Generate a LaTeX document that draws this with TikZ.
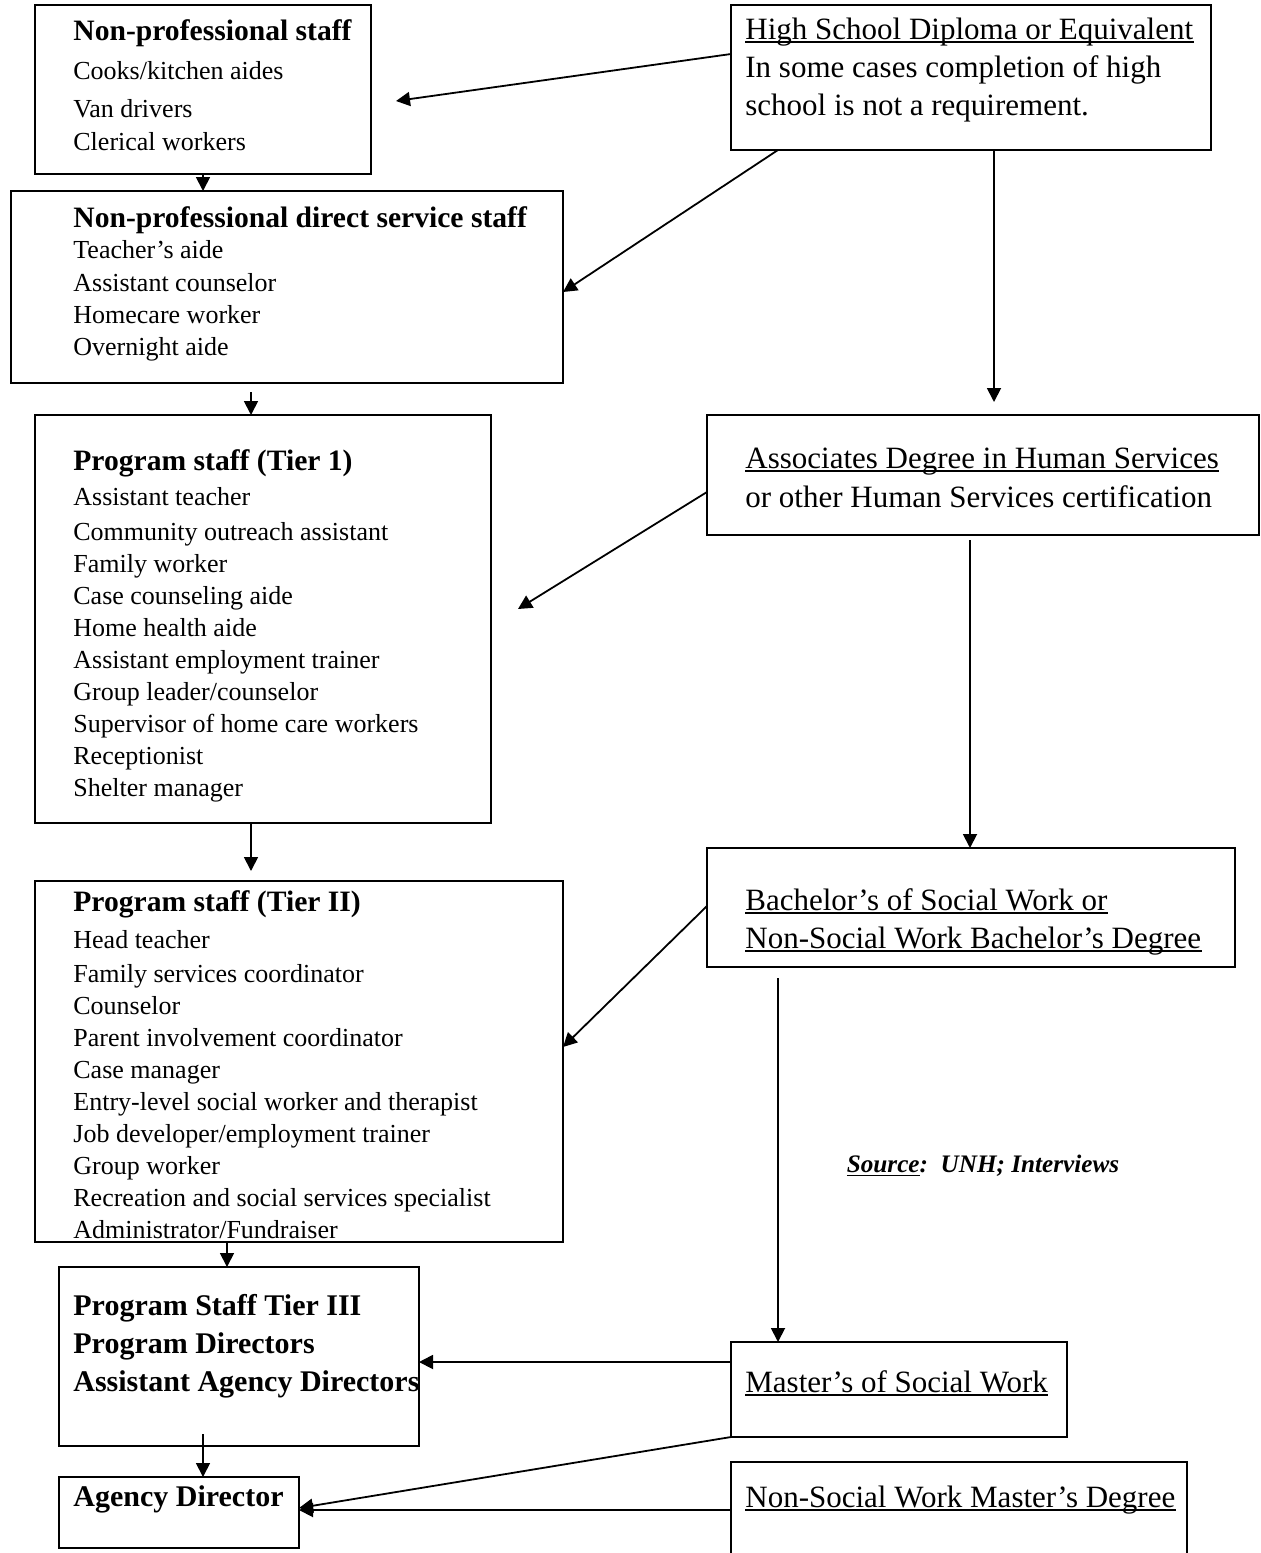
\documentclass[tikz,border=0pt]{standalone}
\usepackage{fontspec}
\setmainfont{Liberation Serif}
\usetikzlibrary{arrows.meta,fit}
\tikzset{
  box/.style={draw, line width=1pt, inner sep=0pt, outer sep=0pt, fit={#1}},
  lbl/.style={anchor=base west, inner sep=0pt, font=\fontsize{13}{15}\selectfont},
  hdr/.style={anchor=base west, inner sep=0pt, font=\fontsize{14.8}{17}\selectfont\bfseries},
  big/.style={anchor=base west, inner sep=0pt, font=\fontsize{15.5}{18}\selectfont},
  bigb/.style={anchor=base west, inner sep=0pt, font=\fontsize{15}{18}\selectfont\bfseries},
  arr/.style={line width=0.9pt, -{Triangle[length=7pt,width=7pt]}},
  ul/.style={line width=0.8pt}
}
\newcommand{\underl}[1]{\draw[ul] ([yshift=-1.6pt]#1.base west) -- ([yshift=-1.6pt]#1.base east);}
\begin{document}
\begin{tikzpicture}[x=0.5pt,y=-0.5pt]
\useasboundingbox (0,0) rectangle (1261,1553);
\fill[white] (0,0) rectangle (1261,1553);
\clip (0,0) rectangle (1261,1553);

% boxes
\node[box={(35,5) (371,174)}] (b1) {};
\node[box={(11,191) (563,383)}] (b2) {};
\node[box={(35,415) (491,823)}] (b3) {};
\node[box={(35,881) (563,1242)}] (b4) {};
\node[box={(59,1267) (419,1446)}] (b5) {};
\node[box={(59,1477) (299,1548)}] (b6) {};
\node[box={(731,5) (1211,150)}] (bA) {};
\node[box={(707,415) (1259,535)}] (bB) {};
\node[box={(707,848) (1235,967)}] (bC) {};
\node[box={(731,1342) (1067,1437)}] (bD) {};
\node[box={(731,1462) (1187,1600)}] (bE) {};

% box 1
\node[hdr] (t11) at (73,40) {Non-professional staff};
\node[lbl] (t12) at (73,79) {Cooks/kitchen aides};
\node[lbl] (t13) at (73,117) {Van drivers};
\node[lbl] (t14) at (73,150) {Clerical workers};
% box 2
\node[hdr] (t21) at (73,227) {Non-professional direct service staff};
\node[lbl] (t22) at (73,258) {Teacher’s aide};
\node[lbl] (t23) at (73,291) {Assistant counselor};
\node[lbl] (t24) at (73,323) {Homecare worker};
\node[lbl] (t25) at (73,355) {Overnight aide};
% box 3
\node[hdr] (t31) at (73,470) {Program staff (Tier 1)};
\node[lbl] (t32) at (73,505) {Assistant teacher};
\node[lbl] (t33) at (73,540) {Community outreach assistant};
\node[lbl] (t34) at (73,572) {Family worker};
\node[lbl] (t35) at (73,604) {Case counseling aide};
\node[lbl] (t36) at (73,636) {Home health aide};
\node[lbl] (t37) at (73,668) {Assistant employment trainer};
\node[lbl] (t38) at (73,700) {Group leader/counselor};
\node[lbl] (t39) at (73,732) {Supervisor of home care workers};
\node[lbl] (t3a) at (73,764) {Receptionist};
\node[lbl] (t3b) at (73,796) {Shelter manager};
% box 4
\node[hdr] (t41) at (73,911) {Program staff (Tier II)};
\node[lbl] (t42) at (73,948) {Head teacher};
\node[lbl] (t43) at (73,982) {Family services coordinator};
\node[lbl] (t44) at (73,1014) {Counselor};
\node[lbl] (t45) at (73,1046) {Parent involvement coordinator};
\node[lbl] (t46) at (73,1078) {Case manager};
\node[lbl] (t47) at (73,1110) {Entry-level social worker and therapist};
\node[lbl] (t48) at (73,1142) {Job developer/employment trainer};
\node[lbl] (t49) at (73,1174) {Group worker};
\node[lbl] (t4a) at (73,1206) {Recreation and social services specialist};
\node[lbl] (t4b) at (73,1238) {Administrator/Fundraiser};
% box 5
\node[bigb] (t51) at (73,1315) {Program Staff Tier III};
\node[bigb] (t52) at (73,1353) {Program Directors};
\node[bigb] (t53) at (73,1391) {Assistant Agency Directors};
% box 6
\node[bigb] (t61) at (73,1506) {Agency Director};
% right boxes
\node[big] (tA1) at (745,39) {High School Diploma or Equivalent};
\node[big] (tA2) at (745,77) {In some cases completion of high};
\node[big] (tA3) at (745,115) {school is not a requirement.};
\node[big] (tB1) at (745,468) {Associates Degree in Human Services};
\node[big] (tB2) at (745,507) {or other Human Services certification};
\node[big] (tC1) at (745,910) {Bachelor’s of Social Work or};
\node[big] (tC2) at (745,948) {Non-Social Work Bachelor’s Degree};
\node[big] (tD1) at (745,1392) {Master’s of Social Work};
\node[big] (tE1) at (745,1507) {Non-Social Work Master’s Degree};
\underl{tA1}
\underl{tB1}
\underl{tC1}
\underl{tC2}
\underl{tD1}
\underl{tE1}
% source
\node[anchor=base, inner sep=0pt, font=\fontsize{12.6}{14}\selectfont\bfseries\itshape] (src) at (983,1172) {\underline{Source}:\ \ UNH; Interviews};

% free ends
\coordinate (e1) at (396,101);
\coordinate (e3) at (994,402);
\coordinate (e4) at (518,609);
\coordinate (s5) at (970,540);
\coordinate (s7) at (778,978);
\coordinate (s2) at (251,392);
\coordinate (e6) at (251,871);
\coordinate (s9) at (203,1434);

% right-side connectors
\draw[arr] ([shift={(0,49)}]bA.north west) -- (e1);
\draw[arr] ([shift={(47,0)}]bA.south west) -- ([shift={(0,101)}]b2.north east);
\draw[arr] ([shift={(263,0)}]bA.south west) -- (e3);
\draw[arr] ([shift={(0,77)}]bB.north west) -- (e4);
\draw[arr] (s5) -- ([shift={(263,0)}]bC.north west);
\draw[arr] ([shift={(0,58)}]bC.north west) -- ([shift={(0,166)}]b4.north east);
\draw[arr] (s7) -- ([shift={(47,0)}]bD.north west);
\draw[arr] ([shift={(0,20)}]bD.north west) coordinate (m8) -- (m8 -| b5.east);
\draw[arr] (bD.south west) -- ([shift={(0,31)}]b6.north east);
\draw[arr] ([shift={(0,48)}]bE.north west) coordinate (m10) -- (m10 -| b6.east);

% left column connectors
\draw[arr] ([shift={(168,0)}]b1.south west) coordinate (m1) -- (m1 |- b2.north);
\draw[arr] (s2) -- (s2 |- b3.north);
\draw[arr] ([shift={(216,0)}]b3.south west) -- (e6);
\draw[arr] ([shift={(192,0)}]b4.south west) coordinate (m4) -- (m4 |- b5.north);
\draw[arr] (s9) -- (s9 |- b6.north);
\end{tikzpicture}
\end{document}
